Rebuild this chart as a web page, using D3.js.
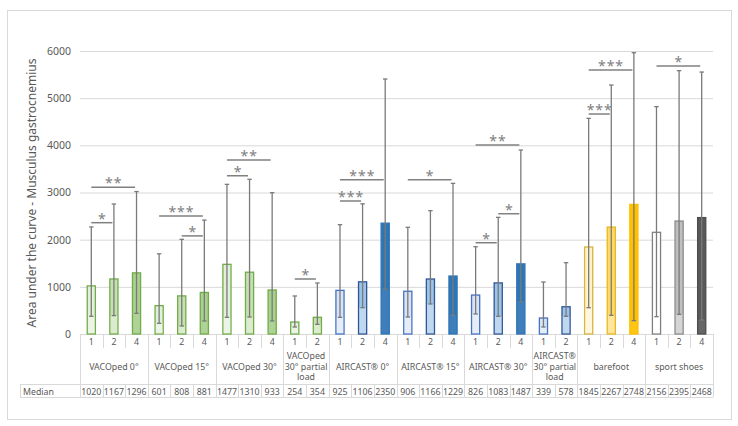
<!DOCTYPE html>
<html>
<head>
<meta charset="utf-8">
<script src="https://cdn.jsdelivr.net/npm/d3@7"></script>
<style>
  body { margin: 0; background: #fff; }
  svg { display: block; font-family: "Noto Sans", sans-serif; }
</style>
</head>
<body>
<svg id="chart" width="738" height="426"></svg>
<script>
// --- data ---
const groups = ["VACOped 0°", "VACOped 15°", "VACOped 30°", "VACOped\n30° partial\nload",
    "AIRCAST® 0°", "AIRCAST® 15°", "AIRCAST® 30°", "AIRCAST®\n30° partial\nload",
    "barefoot", "sport shoes"];
const groupConditions = [["1","2","4"], ["1","2","4"], ["1","2","4"], ["1","2"],
    ["1","2","4"], ["1","2","4"], ["1","2","4"], ["1","2"],
    ["1","2","4"], ["1","2","4"]];
const medians = [1020, 1167, 1296, 601, 808, 881, 1477, 1310, 933, 254, 354,
    925, 1106, 2350, 906, 1166, 1229, 826, 1083, 1487, 339, 578,
    1845, 2267, 2748, 2156, 2395, 2468];
const lowerBounds = [375, 390, 438, 226, 170, 276, 353, 360, 276, 148, 205,
    353, 558, 954, 360, 636, 396, 424, 375, 685, 148, 375,
    558, 396, 283, 368, 417, 297];
const upperBounds = [2270, 2756, 3020, 1700, 2007, 2415, 3173, 3280, 2996, 806, 1081,
    2318, 2760, 5406, 2262, 2615, 3194, 1851, 2473, 3900, 1102, 1512,
    4572, 5279, 5964, 4820, 5583, 5554];
const yTicks = [0, 1000, 2000, 3000, 4000, 5000, 6000];

// significance brackets
const sigGroup = [0, 0, 1, 1, 2, 2, 3, 4, 4, 5, 6, 6, 6, 8, 8, 9];
const sigFrom  = ["1","1","1","2","1","1","1","1","1","1","1","2","1","1","1","1"];
const sigTo    = ["2","4","4","4","2","4","2","2","4","4","2","4","4","2","4","4"];
const sigLevel = [2360, 3110, 2500, 2080, 3355, 3690, 1166, 2820, 3270, 3270, 1935, 2550, 4005, 4664, 5597, 5682];
const sigStars = ["*","**","***","*","*","**","*","***","***","*","*","*","**","***","***","*"];

// --- styles ---
const familyOf = ["green","green","green","green","blue","blue","blue","blue","yellow","gray"];
const palette = {
    green:  { fill: {"1":"#e2efda","2":"#c6e0b4","4":"#a9d08e"}, stroke: {"1":"#70ad47","2":"#70ad47","4":"#70ad47"} },
    blue:   { fill: {"1":"#dae3f3","2":"#9dc3e6","4":"#2e75b6"}, stroke: {"1":"#4472c4","2":"#2f5597","4":"#2e75b6"} },
    yellow: { fill: {"1":"#fff2cc","2":"#ffd966","4":"#ffc000"}, stroke: {"1":"#d9b441","2":"#e8b820","4":"#ffc000"} },
    gray:   { fill: {"1":"#ffffff","2":"#bfbfbf","4":"#595959"}, stroke: {"1":"#7f7f7f","2":"#8c8c8c","4":"#4d4d4d"} }
};
const textColor = "#595959";
const lineColor = "#d9d9d9";

const svg = d3.select("#chart");
const plot = { left: 80, right: 713, top: 51, bottom: 334 };
const table = { top: 334, catBottom: 348, groupBottom: 384, bottom: 397, labelLeft: 20 };

// chart area border
svg.append("rect")
    .attr("x", 7.5).attr("y", 10.5)
    .attr("width", 724).attr("height", 409)
    .attr("fill", "#fff").attr("stroke", lineColor);

// flatten rows
const rows = [];
groupConditions.forEach((conds, gi) => {
    conds.forEach(c => rows.push({ id: gi + "-" + c, group: gi, cond: c }));
});
rows.forEach((r, i) => {
    r.median = medians[i];
    r.lo = lowerBounds[i];
    r.hi = upperBounds[i];
});

const x = d3.scaleBand().domain(rows.map(r => r.id)).range([plot.left, plot.right]);
const y = d3.scaleLinear().domain([0, 6000]).range([plot.bottom, plot.top]);
const cx = id => x(id) + x.bandwidth() / 2;

// y axis with gridlines
const yAxis = svg.append("g")
    .attr("transform", `translate(${plot.left},0)`)
    .call(d3.axisLeft(y).tickValues(yTicks).tickFormat(d3.format("d"))
        .tickSize(-(plot.right - plot.left)).tickPadding(9));
yAxis.select(".domain").remove();
yAxis.selectAll(".tick line").attr("stroke", lineColor);
yAxis.selectAll(".tick text")
    .attr("fill", textColor)
    .attr("font-size", "10.5px")
    .attr("font-family", "Noto Sans, sans-serif");

svg.append("text")
    .attr("transform", "translate(36,193) rotate(-90)")
    .attr("text-anchor", "middle")
    .attr("fill", textColor)
    .attr("font-size", "12px")
    .text("Area under the curve - Musculus gastrocnemius");

// bars
const barW = x.bandwidth() * 0.36;
const bars = svg.append("g").selectAll("g").data(rows).join("g");
bars.append("rect")
    .attr("x", d => cx(d.id) - barW / 2)
    .attr("y", d => y(d.median))
    .attr("width", barW)
    .attr("height", d => y(0) - y(d.median))
    .attr("fill", d => palette[familyOf[d.group]].fill[d.cond])
    .attr("stroke", d => palette[familyOf[d.group]].stroke[d.cond])
    .attr("stroke-width", 1.3);
// lighter lower part (0 .. lower bound)
bars.append("rect")
    .attr("x", d => cx(d.id) - barW / 2 + 0.7)
    .attr("y", d => y(d.lo))
    .attr("width", barW - 1.4)
    .attr("height", d => y(0) - y(d.lo) - 0.7)
    .attr("fill", "#fff")
    .attr("fill-opacity", d => d.cond === "4" ? 0.08 : 0.35);

// whiskers
const whisk = svg.append("g").attr("stroke", "#7a7a7a").attr("stroke-width", 1.3);
rows.forEach(d => {
    const c = cx(d.id);
    whisk.append("line").attr("x1", c).attr("x2", c).attr("y1", y(d.lo)).attr("y2", y(d.hi));
    [d.lo, d.hi].forEach(v => {
        whisk.append("line").attr("x1", c - 2.2).attr("x2", c + 2.2).attr("y1", y(v)).attr("y2", y(v));
    });
});

// significance brackets
const sig = svg.append("g");
sigGroup.forEach((g, i) => {
    const x1 = cx(g + "-" + sigFrom[i]);
    const x2 = cx(g + "-" + sigTo[i]) - 1.5;
    const yy = y(sigLevel[i]);
    sig.append("line")
        .attr("x1", x1).attr("x2", x2).attr("y1", yy).attr("y2", yy)
        .attr("stroke", "#808080").attr("stroke-width", 1.5);
    sig.append("text")
        .attr("x", (x1 + x2) / 2 + 0.5)
        .attr("y", yy + 1)
        .attr("text-anchor", "middle")
        .attr("fill", "#808080")
        .attr("font-size", "14px")
        .attr("letter-spacing", "1px")
        .text(sigStars[i]);
});

// data table below the axis
const tbl = svg.append("g").attr("stroke", lineColor).attr("stroke-width", 1);
const hline = (x1, x2, yy) => tbl.append("line").attr("x1", x1).attr("x2", x2).attr("y1", yy).attr("y2", yy);
const vline = (xx, y1, y2) => tbl.append("line").attr("x1", xx).attr("x2", xx).attr("y1", y1).attr("y2", y2);

hline(table.labelLeft, plot.right, table.groupBottom + 0.5);
hline(table.labelLeft, plot.right, table.bottom + 0.5);
vline(table.labelLeft + 0.5, table.groupBottom, table.bottom);
vline(plot.left + 0.5, table.top, table.bottom);

groupConditions.forEach((conds, gi) => {
    const last = gi + "-" + conds[conds.length - 1];
    const gRight = x(last) + x.bandwidth();
    vline(Math.round(gRight) + 0.5, table.top, table.bottom);
    conds.slice(0, -1).forEach(c => {
        const xr = Math.round(x(gi + "-" + c) + x.bandwidth()) + 0.5;
        vline(xr, table.top, table.catBottom);
        vline(xr, table.groupBottom, table.bottom);
    });
});

const tText = svg.append("g")
    .attr("fill", textColor)
    .attr("font-size", "8.8px")
    .attr("text-anchor", "middle");

rows.forEach(d => {
    tText.append("text").attr("x", cx(d.id)).attr("y", 344.5).text(d.cond);
    tText.append("text").attr("x", cx(d.id)).attr("y", 394.5).text(d.median);
});

groups.forEach((name, gi) => {
    const conds = groupConditions[gi];
    const gl = x(gi + "-" + conds[0]);
    const gr = x(gi + "-" + conds[conds.length - 1]) + x.bandwidth();
    const lines = name.split("\n");
    const lh = 10.7;
    const base = 369.5 - (lines.length - 1) * lh / 2;
    lines.forEach((ln, k) => {
        tText.append("text").attr("x", (gl + gr) / 2).attr("y", base + k * lh).text(ln);
    });
});

tText.append("text")
    .attr("x", 23).attr("y", 394.5)
    .attr("text-anchor", "start")
    .text("Median");
</script>
</body>
</html>
